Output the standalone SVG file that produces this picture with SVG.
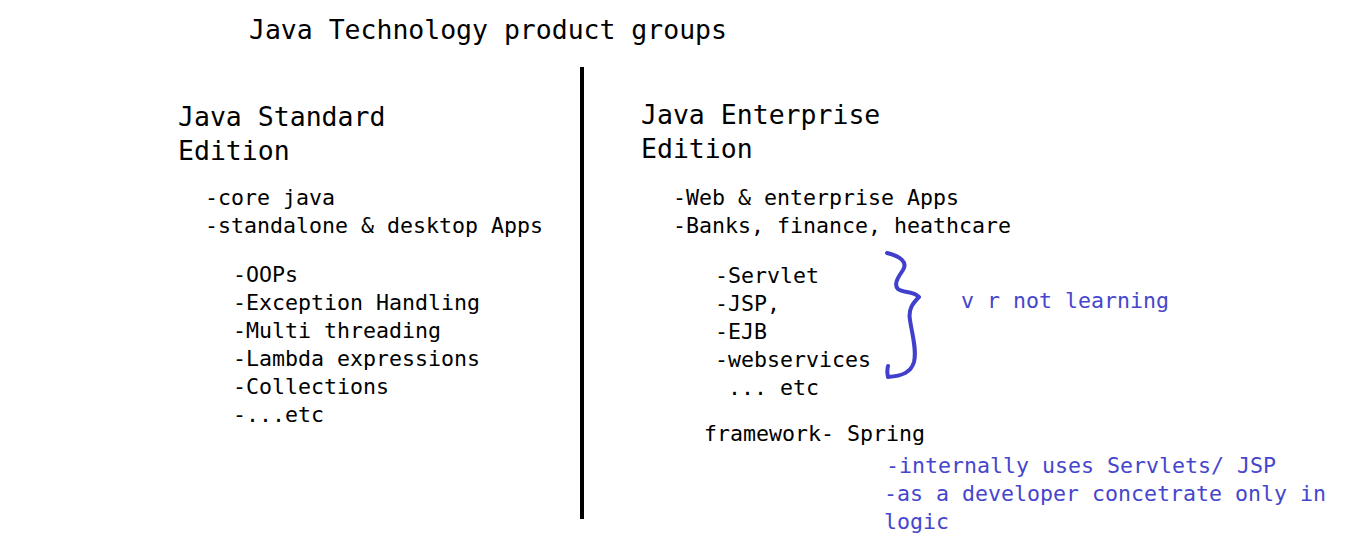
<svg xmlns="http://www.w3.org/2000/svg" width="1349" height="544" viewBox="0 0 1349 544">
<style>
text{font-family:"DejaVu Sans Mono","Liberation Mono",monospace;fill:#000}
.h{font-size:26.5px}
.b{font-size:21.6px}
.blue{fill:#4646cc}
</style>
<rect width="1349" height="544" fill="#fff"/>
<g id="title"><text class="h" x="249" y="39" textLength="478">Java Technology product groups</text></g>
<g id="divider"><line x1="582" y1="67" x2="582" y2="519" stroke="#000" stroke-width="4"/></g>
<g id="se">
<text class="h" x="178" y="126">Java Standard</text>
<text class="h" x="178" y="160">Edition</text>
<text class="b" x="205" y="205">-core java</text>
<text class="b" x="205" y="233">-standalone &amp; desktop Apps</text>
<text class="b" x="233" y="282">-OOPs</text>
<text class="b" x="233" y="310">-Exception Handling</text>
<text class="b" x="233" y="338">-Multi threading</text>
<text class="b" x="233" y="366">-Lambda expressions</text>
<text class="b" x="233" y="394">-Collections</text>
<text class="b" x="233" y="422">-...etc</text>
</g>
<g id="ee">
<text class="h" x="641" y="124">Java Enterprise</text>
<text class="h" x="641" y="158">Edition</text>
<text class="b" x="673" y="205">-Web &amp; enterprise Apps</text>
<text class="b" x="673" y="233">-Banks, finance, heathcare</text>
<text class="b" x="715" y="283">-Servlet</text>
<text class="b" x="715" y="311">-JSP,</text>
<text class="b" x="715" y="339">-EJB</text>
<text class="b" x="715" y="367">-webservices</text>
<text class="b" x="715" y="395" xml:space="preserve"> ... etc</text>
<text class="b" x="704" y="441">framework- Spring</text>
</g>
<g id="note">
<path d="M887,253 C900,256 908,262 903,270 C899,276 893,284 898,289 C903,293 914,291 919,297 C913,303 908,309 910,320 C912,334 917,350 914,362 C911,372 903,376 888,377 M888,377 C887,373 887,370 888,366" fill="none" stroke="#4040cc" stroke-width="4" stroke-linecap="round" stroke-linejoin="round"/>
<text class="b blue" x="961" y="308">v r not learning</text>
<text class="b blue" x="886" y="473">-internally uses Servlets/ JSP</text>
<text class="b blue" x="884" y="501">-as a developer concetrate only in</text>
<text class="b blue" x="884" y="529">logic</text>
</g>
</svg>
